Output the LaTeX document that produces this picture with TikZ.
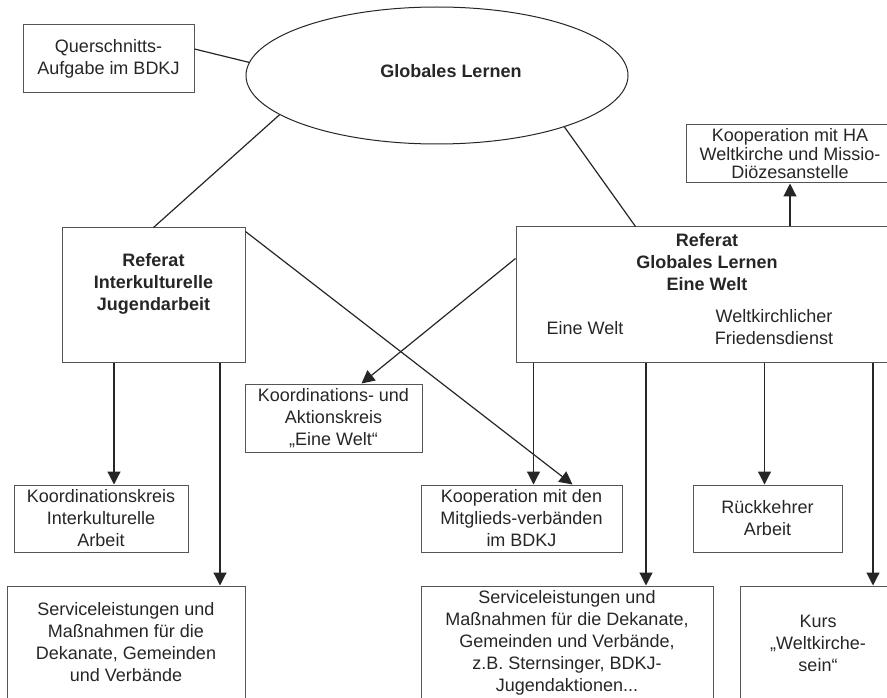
\documentclass[tikz,border=0pt]{standalone}
\usepackage{fontspec}
\setmainfont{Liberation Sans}
\usetikzlibrary{shapes.geometric,arrows.meta}
\definecolor{ink}{HTML}{262626}
\definecolor{frame}{HTML}{555555}
\tikzset{
  box/.style={draw=frame,line width=1pt,inner sep=0pt,align=center,text=ink,font=\fontsize{18}{22}\selectfont},
  txt/.style={inner sep=0pt,align=center,text=ink,font=\fontsize{18}{22}\selectfont},
  head/.style={txt,font=\fontsize{18}{22}\selectfont\bfseries},
  link/.style={draw=ink,line width=1.2pt},
  arr/.style={link,-{Triangle[width=13pt,length=13pt]}}
}
\begin{document}
\begin{tikzpicture}[x=1pt,y=-1pt]
  \clip (0,0) rectangle (887,698);
  \node[box,minimum width=171pt,minimum height=68pt] (qa) at (108.5,59) {Querschnitts-\\Aufgabe im BDKJ};
  \node[draw=ink,line width=1pt,ellipse,inner sep=0pt,minimum width=382pt,minimum height=137pt] (gl) at (437,75.5) {};
  \node[head] (glt) at (451,71) {Globales Lernen};
  \node[box,minimum width=183pt,minimum height=134pt] (ri) at (153.5,295) {};
  \node[head] (rit) at (153.5,284) {Referat\\Interkulturelle\\Jugendarbeit};
  \node[box,minimum width=382pt,minimum height=135pt] (rg) at (707,294.5) {};
  \node[head] (rgt) at (707,262) {Referat\\Globales Lernen\\Eine Welt};
  \node[txt] (rgew) at (585,328) {Eine Welt};
  \node[txt] (rgwf) at (774,327) {Weltkirchlicher\\Friedensdienst};
  \node[box,font=\fontsize{18}{18.5}\selectfont,minimum width=208pt,minimum height=58pt] (kha) at (790,154) {Kooperation mit HA\\Weltkirche und Missio-\\Diözesanstelle};
  \node[box,minimum width=177pt,minimum height=68pt] (ka) at (333.5,418) {Koordinations- und\\Aktionskreis\\„Eine Welt“};
  \node[box,minimum width=174pt,minimum height=67pt] (kk) at (101,518.5) {Koordinationskreis\\Interkulturelle\\Arbeit};
  \node[box,minimum width=201pt,minimum height=67pt] (km) at (521.5,518.5) {Kooperation mit den\\Mitglieds-verbänden\\im BDKJ};
  \node[box,minimum width=149pt,minimum height=67pt] (rk) at (767.5,518.5) {Rückkehrer\\Arbeit};
  \node[box,minimum width=238pt,minimum height=113pt] (sa) at (126,642.5) {Serviceleistungen und\\Maßnahmen für die\\Dekanate, Gemeinden\\und Verbände};
  \node[box,minimum width=292pt,minimum height=114pt] (sb) at (567,643) {Serviceleistungen und\\Maßnahmen für die Dekanate,\\Gemeinden und Verbände,\\z.B. Sternsinger, BDKJ-\\Jugendaktionen...};
  \node[box,minimum width=156pt,minimum height=114pt] (ku) at (818,643) {Kurs\\„Weltkirche-\\sein“};
  \draw[link] ([yshift=10pt]qa.east) -- (gl.176);
  \draw[link] (gl.194) -- (ri.north);
  \draw[link] (gl.-22) -- ([xshift=120pt]rg.north west);
  \draw[arr] (rg.north -| kha.south) -- (kha.south);
  \draw[arr] ([yshift=36pt]rg.west) -- ([xshift=28pt]ka.north);
  \draw[arr] ([yshift=-4pt]ri.north east) -- ([xshift=51pt]km.north);
  \draw[arr] ([xshift=13pt]kk.north |- ri.south) -- ([xshift=13pt]kk.north);
  \draw[arr] ([xshift=94pt]sa.north |- ri.south) -- ([xshift=94pt]sa.north);
  \draw[arr] ([xshift=12pt]km.north |- rg.south) -- ([xshift=12pt]km.north);
  \draw[arr] ([xshift=79pt]sb.north |- rg.south) -- ([xshift=79pt]sb.north);
  \draw[arr] ([xshift=-3pt]rk.north |- rg.south) -- ([xshift=-3pt]rk.north);
  \draw[arr] ([xshift=55pt]ku.north |- rg.south) -- ([xshift=55pt]ku.north);
\end{tikzpicture}
\end{document}
